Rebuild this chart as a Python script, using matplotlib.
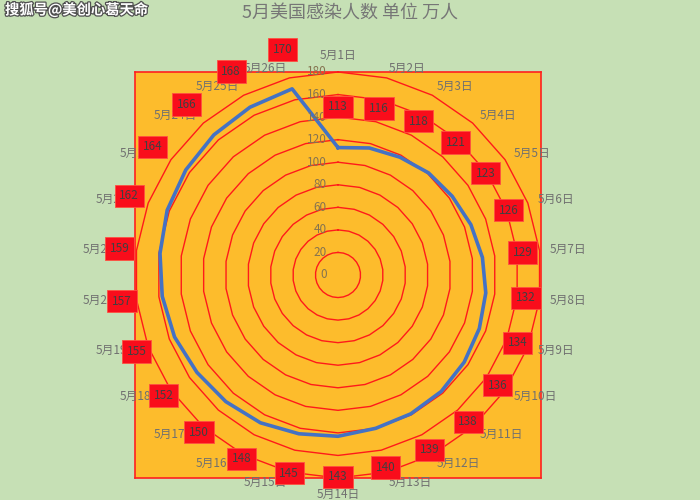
import numpy as np
import matplotlib.pyplot as plt
import matplotlib.patheffects as pe

plt.rcParams["font.family"] = ["Noto Sans CJK SC", "DejaVu Sans"]

# Data
dates = [f"5月{d}日" for d in range(1, 27)]
infected = [113, 116, 118, 121, 123, 126, 129, 132, 134, 136, 138, 139, 140,
            143, 145, 148, 150, 152, 155, 157, 159, 162, 164, 166, 168, 170]
ring_values = [20, 40, 60, 80, 100, 120, 140, 160, 180]
tick_values = [0, 20, 40, 60, 80, 100, 120, 140, 160, 180]

BG_GREEN = "#C6E0B5"
PLOT_ORANGE = "#FDBC2C"
RING_RED = "#FF1A1A"
LINE_BLUE = "#4472C4"
LABEL_GRAY = "#707070"

fig = plt.figure(figsize=(7, 5), dpi=100)
fig.patch.set_facecolor(BG_GREEN)

rect = [135 / 700, 22 / 500, 406 / 700, 406 / 500]

# orange plot area with red border
bg = fig.add_axes(rect)
bg.set_facecolor(PLOT_ORANGE)
bg.set_xticks([])
bg.set_yticks([])
for sp in bg.spines.values():
    sp.set_color("#FF2020")
    sp.set_linewidth(1.2)

ax = fig.add_axes(rect, projection="polar")
ax.set_facecolor("none")
ax.set_theta_offset(np.pi / 2)
ax.set_theta_direction(-1)
ax.set_ylim(0, 180)
ax.grid(False)
ax.spines["polar"].set_visible(False)
ax.set_xticks([])
ax.set_yticks([])

n = len(dates)
theta = np.arange(n) * 2 * np.pi / n
theta_closed = np.append(theta, theta[0])

# polygon rings
for rv in ring_values:
    ax.plot(theta_closed, [rv] * (n + 1), color=RING_RED, lw=1.0, clip_on=False, zorder=2)

# data line
vals_closed = infected + [infected[0]]
ax.plot(theta_closed, vals_closed, color=LINE_BLUE, lw=2.6, clip_on=False, zorder=3)

# radial tick labels
for tv in tick_values:
    ax.annotate(str(tv), xy=(0, tv), xytext=(-8, 0), textcoords="offset points",
                ha="right", va="center", fontsize=8.5, color="#857350", zorder=4)

# category labels
for t, lab in zip(theta, dates):
    s, c = np.sin(t), np.cos(t)
    if abs(s) < 0.05:
        ha = "center"
        va = "bottom" if c > 0 else "top"
    else:
        ha = "left" if s > 0 else "right"
        va = "center"
    ax.text(t, 189, lab, ha=ha, va=va, fontsize=8.5, color=LABEL_GRAY, zorder=5)

# data labels in red boxes
for t, v in zip(theta, infected):
    ax.text(t, v + 36, str(v), ha="center", va="center", fontsize=8.5,
            color="#404040", zorder=6,
            bbox=dict(boxstyle="square,pad=0.4", facecolor="#F90D1B",
                      edgecolor="#FF5040", linewidth=0.6))

fig.text(0.5, 1 - 13 / 500, "5月美国感染人数 单位 万人", ha="center", va="center",
         fontsize=13, color="#767676")

fig.text(5 / 700, 1 - 10 / 500, "搜狐号@美创心葛天命", ha="left", va="center",
         fontsize=10.3, color="white", weight="bold",
         path_effects=[pe.withStroke(linewidth=1.8, foreground="#505050")])

fig.savefig("out.png", dpi=100, facecolor=fig.get_facecolor())
